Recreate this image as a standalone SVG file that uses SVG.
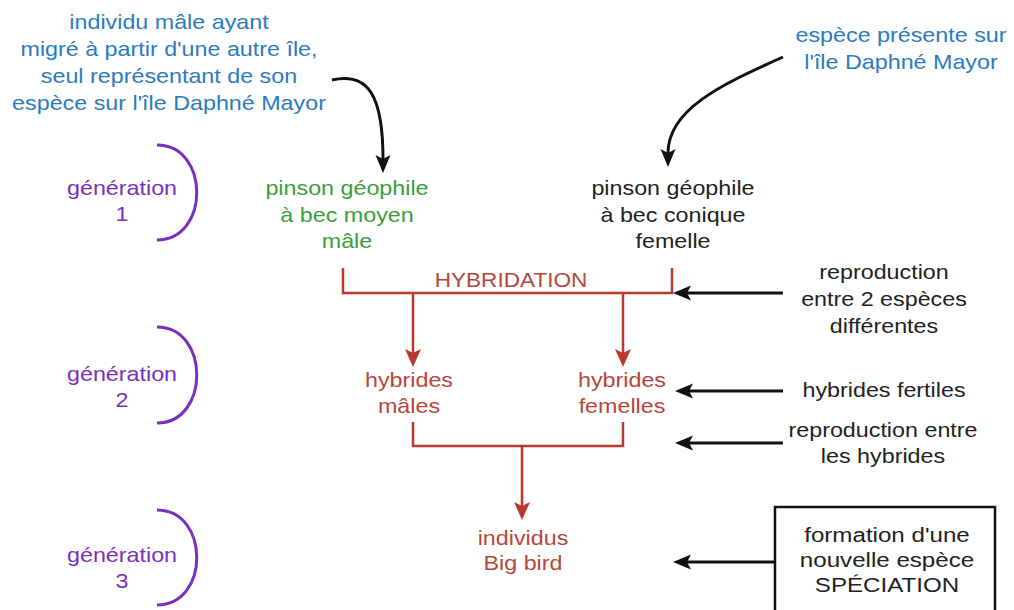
<svg xmlns="http://www.w3.org/2000/svg" width="1014" height="610" viewBox="0 0 1014 610">
<defs>
<style>
text{font-family:"Liberation Sans",Arial,Helvetica,sans-serif;font-size:20px;text-anchor:middle}
.blue{fill:#2b7bbf}
.green{fill:#3a9e3a}
.purple{fill:#7b2fbe}
.red{fill:#b9453a}
.black{fill:#222}
.bl{fill:none;stroke:#111;stroke-width:3}
.rl{fill:none;stroke:#b83a2e;stroke-width:2.5}
.pl{fill:none;stroke:#7b2fbe;stroke-width:3}
</style>
<marker id="ab" markerUnits="userSpaceOnUse" markerWidth="20" markerHeight="18" refX="4" refY="7.5" orient="auto">
<path d="M0,0 L18,7.5 L0,15 L4,7.5 Z" fill="#111"/>
</marker>
<marker id="ar" markerUnits="userSpaceOnUse" markerWidth="20" markerHeight="18" refX="4" refY="8" orient="auto">
<path d="M0,0 L18,8 L0,16 L4,8 Z" fill="#b83a2e"/>
</marker>
</defs>
<rect width="1014" height="610" fill="#fff"/>

<g id="connectors">
<path class="bl" d="M332,80 C368,72 383,95 383,159" marker-end="url(#ab)"/>
<path class="bl" d="M783,57 C720,85 668,110 668,153" marker-end="url(#ab)"/>
<path class="rl" d="M343,268 V293 H672 V268"/>
<path class="rl" d="M413,293 V353" marker-end="url(#ar)"/>
<path class="rl" d="M623,293 V353" marker-end="url(#ar)"/>
<path class="rl" d="M413,422 V446 H623 V422"/>
<path class="rl" d="M522,446 V506" marker-end="url(#ar)"/>
<path class="bl" d="M783,293 H687" marker-end="url(#ab)"/>
<path class="bl" d="M783,391 H689" marker-end="url(#ab)"/>
<path class="bl" d="M783,443 H689" marker-end="url(#ab)"/>
<path class="bl" d="M775,562 H687" marker-end="url(#ab)"/>
</g>

<g id="n-migrant-note">
<text class="blue" transform="matrix(1.165,0,0,1,169,0)"><tspan x="0" y="29">individu mâle ayant</tspan><tspan x="0" y="56">migré à partir d'une autre île,</tspan><tspan x="0" y="83">seul représentant de son</tspan><tspan x="0" y="110">espèce sur l'île Daphné Mayor</tspan></text>
</g>
<g id="n-resident-note">
<text class="blue" transform="matrix(1.165,0,0,1,901,0)"><tspan x="0" y="42">espèce présente sur</tspan><tspan x="0" y="69">l'île Daphné Mayor</tspan></text>
</g>

<g id="n-gen1">
<path class="pl" d="M157,145 C210,145 210,240 157,240"/>
<text class="purple" transform="matrix(1.165,0,0,1,122,0)"><tspan x="0" y="195">génération</tspan><tspan x="0" y="221">1</tspan></text>
</g>
<g id="n-gen2">
<path class="pl" d="M157,327 C210,327 210,423 157,423"/>
<text class="purple" transform="matrix(1.165,0,0,1,122,0)"><tspan x="0" y="381">génération</tspan><tspan x="0" y="407">2</tspan></text>
</g>
<g id="n-gen3">
<path class="pl" d="M157,510 C210,510 210,605 157,605"/>
<text class="purple" transform="matrix(1.165,0,0,1,122,0)"><tspan x="0" y="562">génération</tspan><tspan x="0" y="588">3</tspan></text>
</g>

<g id="n-male">
<text class="green" transform="matrix(1.165,0,0,1,347,0)"><tspan x="0" y="195">pinson géophile</tspan><tspan x="0" y="222">à bec moyen</tspan><tspan x="0" y="248">mâle</tspan></text>
</g>
<g id="n-female">
<text class="black" transform="matrix(1.165,0,0,1,673,0)"><tspan x="0" y="195">pinson géophile</tspan><tspan x="0" y="222">à bec conique</tspan><tspan x="0" y="248">femelle</tspan></text>
</g>

<g id="n-hybridation">
<text class="red" transform="matrix(1.13,0,0,1,511,0)" x="0" y="287">HYBRIDATION</text>
</g>
<g id="n-hyb-m">
<text class="red" transform="matrix(1.165,0,0,1,409,0)"><tspan x="0" y="387">hybrides</tspan><tspan x="0" y="413">mâles</tspan></text>
</g>
<g id="n-hyb-f">
<text class="red" transform="matrix(1.165,0,0,1,622,0)"><tspan x="0" y="387">hybrides</tspan><tspan x="0" y="413">femelles</tspan></text>
</g>
<g id="n-bigbird">
<text class="red" transform="matrix(1.165,0,0,1,523,0)"><tspan x="0" y="545">individus</tspan><tspan x="0" y="570">Big bird</tspan></text>
</g>

<g id="n-note-repro">
<text class="black" transform="matrix(1.165,0,0,1,884,0)"><tspan x="0" y="279">reproduction</tspan><tspan x="0" y="306">entre 2 espèces</tspan><tspan x="0" y="333">différentes</tspan></text>
</g>
<g id="n-note-fertile">
<text class="black" transform="matrix(1.165,0,0,1,884,0)" x="0" y="397">hybrides fertiles</text>
</g>
<g id="n-note-repro-hyb">
<text class="black" transform="matrix(1.165,0,0,1,883,0)"><tspan x="0" y="437">reproduction entre</tspan><tspan x="0" y="463">les hybrides</tspan></text>
</g>
<g id="n-speciation">
<rect x="775" y="507" width="220" height="120" fill="#fff" stroke="#111" stroke-width="2.5"/>
<text class="black" style="font-size:21px" transform="matrix(1.15,0,0,1,887,0)"><tspan x="0" y="542">formation d'une</tspan><tspan x="0" y="567">nouvelle espèce</tspan><tspan x="0" y="592">SPÉCIATION</tspan></text>
</g>
</svg>
